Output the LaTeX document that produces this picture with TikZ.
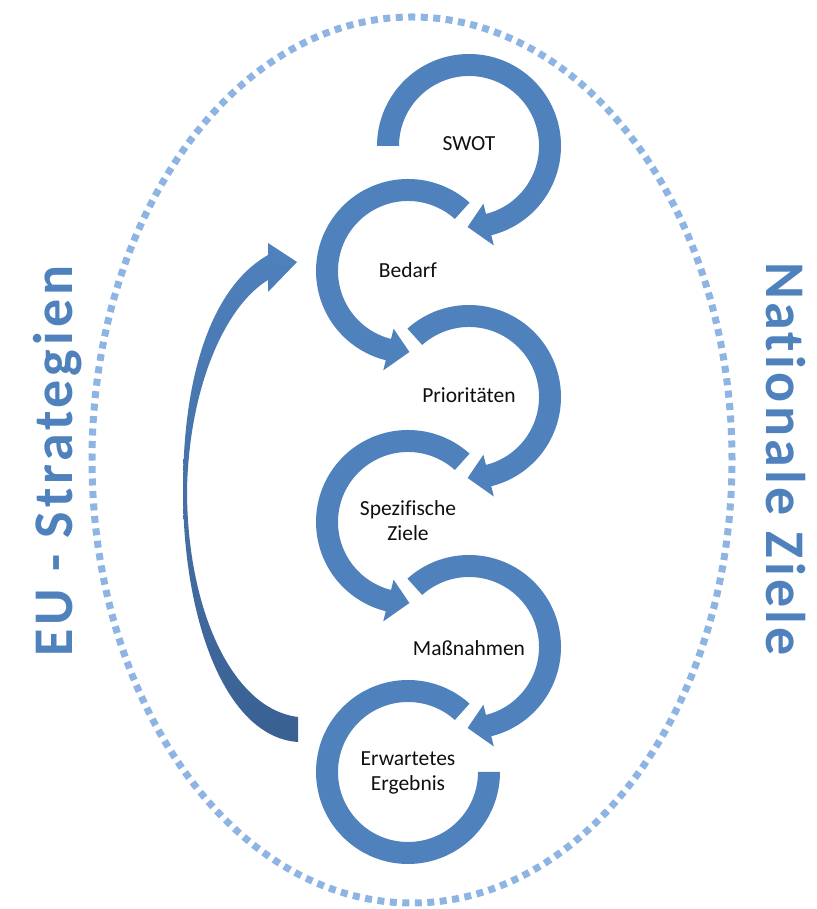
\documentclass[tikz,border=0pt]{standalone}
\usepackage{fontspec}
\setmainfont{Carlito}[Ligatures=NoCommon]
\usetikzlibrary{calc}
\definecolor{arrowblue}{RGB}{79,129,189}
\definecolor{arrowdark}{RGB}{58,96,146}
\definecolor{dotblue}{RGB}{141,180,226}
\definecolor{sideblue}{RGB}{79,129,189}
\definecolor{txt}{RGB}{15,15,15}
% circular arrow: #1 centre, #2 start angle, #3 angle of head back, #4 angle of tip
\newcommand{\cyclearrow}[4]{%
  \fill[arrowblue] ([shift={(#2:92)}]#1) arc[start angle=#2, end angle=#3, radius=92]
    -- ([shift={(#3:102.5)}]#1) -- ([shift={(#4:81)}]#1) -- ([shift={(#3:59.5)}]#1)
    -- ([shift={(#3:70)}]#1) arc[start angle=#3, end angle=#2, radius=70] -- cycle;}
\begin{document}
\begin{tikzpicture}[x=1pt,y=1pt,
  lbl/.style={font=\fontsize{21.5}{25}\selectfont, text=txt, align=center, inner sep=0pt},
  sideL/.style={font=\fontsize{56}{60}\selectfont\bfseries\addfontfeatures{LetterSpace=7}, text=sideblue, inner sep=0pt},
  sideR/.style={font=\fontsize{56}{60}\selectfont\bfseries\addfontfeatures{LetterSpace=6}, text=sideblue, inner sep=0pt}]
\useasboundingbox (0,0) rectangle (816,909);
% dotted outer ellipse
\draw[dotblue, line width=7pt, dash pattern=on 7pt off 5.5pt] (412,449) ellipse [x radius=320, y radius=443];
% centres
\coordinate (c1) at (469,763);
\coordinate (c2) at (408,638);
\coordinate (c3) at (469,512);
\coordinate (c4) at (408,387);
\coordinate (c5) at (469,262);
\coordinate (c6) at (408,137);
% circular arrows
\cyclearrow{c1}{180}{-76}{-91}
\cyclearrow{c2}{48}{256}{271}
\cyclearrow{c3}{132}{-76}{-91}
\cyclearrow{c4}{48}{256}{271}
\cyclearrow{c5}{132}{-76}{-91}
\fill[arrowblue] ([shift={(48:92)}]c6) arc[start angle=48, end angle=360, radius=92]
  -- ([shift={(0:70)}]c6) arc[start angle=360, end angle=48, radius=70] -- cycle;
% labels
\node[lbl] (t1) at (469,765) {SWOT};
\node[lbl] (t2) at (408,639) {Bedarf};
\node[lbl] (t3) at (469,514) {Prioritäten};
\node[lbl] (t4) at (408,388) {Spezifische\\Ziele};
\node[lbl] (t5) at (469,261) {Maßnahmen};
\node[lbl] (t6) at (408,136) {Erwartetes\\Ergebnis};
% big feedback arrow
\shade[top color=arrowblue, bottom color=arrowdark]
  (298,167) .. controls (225,172) and (183,290) .. (183,419)
  .. controls (183,535) and (212,622) .. (268,654)
  -- (268,666) -- (297,647) -- (268,617) -- (268,629)
  .. controls (224,602) and (189,520) .. (187,419)
  .. controls (187,300) and (232,200) .. (298,192) -- cycle;
% side titles
\node[sideL, rotate=90, anchor=base] (eu) at (72,448) {EU - Strategien};
\node[sideR, rotate=-90, anchor=base] (nat) at (766,450) {Nationale Ziele};
\end{tikzpicture}
\end{document}
